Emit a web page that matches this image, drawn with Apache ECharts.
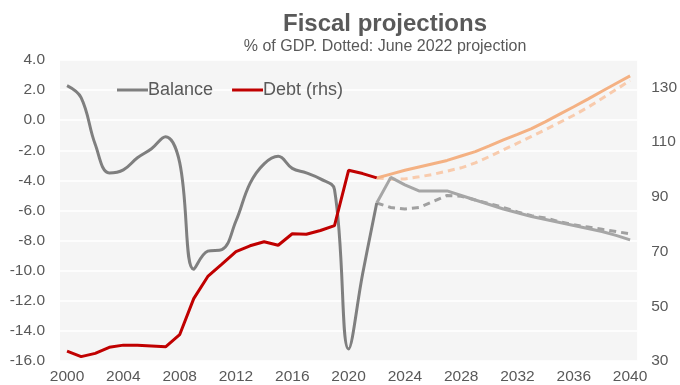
<!DOCTYPE html>
<html>
<head>
<meta charset="utf-8">
<script src="https://cdn.jsdelivr.net/npm/echarts@6/dist/echarts.min.js"></script>
<style>
  html, body { margin: 0; padding: 0; background: #ffffff; }
  #chart { width: 680px; height: 385px; }
</style>
</head>
<body>
<div id="chart"></div>
<script>
// Years on the category axis
var years = ['2000','2001','2002','2003','2004','2005','2006','2007','2008','2009',
  '2010','2011','2012','2013','2014','2015','2016','2017','2018','2019',
  '2020','2021','2022','2023','2024','2025','2026','2027','2028','2029',
  '2030','2031','2032','2033','2034','2035','2036','2037','2038','2039','2040'];

// Budget balance, % of GDP, outturn 2000-2022
var balanceHist = [2.3, 1.5, -1.6, -3.5, -3.3, -2.5, -1.9, -1.1, -2.8, -9.9,
  -8.7, -8.6, -6.7, -4.2, -2.9, -2.4, -3.2, -3.5, -3.9, -4.6,
  -15.2, -10.2, -5.5];
// Budget balance, current projection 2022-2040
var balanceProj = [-5.5, -3.8, -4.3, -4.7, -4.7, -4.7, -5.0, -5.3, -5.6, -5.9,
  -6.15, -6.4, -6.6, -6.8, -7.0, -7.2, -7.4, -7.65, -7.95];
// Budget balance, June 2022 projection 2022-2040
var balanceJune = [-5.5, -5.8, -5.9, -5.8, -5.4, -5.0, -5.05, -5.3, -5.55, -5.8,
  -6.1, -6.35, -6.5, -6.75, -6.95, -7.1, -7.25, -7.4, -7.55];

// Public debt, % of GDP, outturn 2000-2022
var debtHist = [33.6, 31.6, 32.8, 35.0, 35.8, 35.8, 35.5, 35.2, 39.6, 52.8,
  60.9, 65.4, 70.0, 72.1, 73.6, 72.3, 76.5, 76.3, 77.7, 79.5,
  99.7, 98.5, 96.9];
// Public debt, current projection 2022-2040
var debtProj = [96.9, 98.3, 99.7, 100.9, 102.1, 103.3, 104.9, 106.5, 108.6, 110.8,
  112.8, 114.9, 117.5, 120.2, 122.9, 125.7, 128.6, 131.4, 134.2];
// Public debt, June 2022 projection 2022-2040
var debtJune = [96.9, 96.4, 96.5, 97.3, 98.2, 99.4, 100.6, 102.4, 104.7, 107.2,
  109.6, 112.1, 114.6, 117.2, 119.8, 122.7, 125.9, 129.2, 132.5];

// Projections start in 2022: pad the earlier years with gaps
var projStart = years.indexOf('2022');
function fromProjStart(arr) {
  var out = [];
  for (var i = 0; i < projStart; i++) out.push(null);
  return out.concat(arr);
}

var FONT = "'Liberation Sans', Arial, Helvetica, sans-serif";
var TXT = '#595959';

var chart = echarts.init(document.getElementById('chart'), null, { renderer: 'canvas' });

chart.setOption({
  animation: false,
  backgroundColor: '#ffffff',
  textStyle: { fontFamily: FONT, color: TXT },
  title: [
    {
      text: 'Fiscal projections',
      left: 385, top: 12, padding: 0, textAlign: 'center',
      textStyle: { fontFamily: FONT, fontSize: 24, fontWeight: 'bold', color: TXT }
    },
    {
      text: '% of GDP. Dotted: June 2022 projection',
      left: 385, top: 39, padding: 0, textAlign: 'center',
      textStyle: { fontFamily: FONT, fontSize: 16, fontWeight: 'normal', color: TXT }
    }
  ],
  legend: {
    data: ['Balance', 'Debt (rhs)'],
    left: 117, top: 81, padding: 0,
    icon: 'rect', itemWidth: 31, itemHeight: 3, itemGap: 19,
    textStyle: { fontFamily: FONT, fontSize: 18, color: TXT, padding: [0, 0, 0, -5] }
  },
  grid: {
    left: 60, right: 41, top: 60, bottom: 20,
    show: true, backgroundColor: '#f5f5f5', borderWidth: 0
  },
  xAxis: {
    type: 'category',
    data: years,
    boundaryGap: true,
    axisLine: { show: false },
    axisTick: { show: false },
    axisLabel: { interval: 3, margin: 8, fontSize: 15.5, color: TXT, fontFamily: FONT },
    splitLine: { show: false }
  },
  yAxis: [
    {
      type: 'value', min: -16, max: 4, interval: 2,
      axisLine: { show: false }, axisTick: { show: false },
      axisLabel: {
        margin: 15, fontSize: 15.5, color: TXT, fontFamily: FONT,
        formatter: function (v) { return v.toFixed(1); }
      },
      splitLine: { show: true, lineStyle: { color: '#ffffff', width: 1.5 } }
    },
    {
      type: 'value', min: 30, max: 140, interval: 20, position: 'right',
      axisLine: { show: false }, axisTick: { show: false },
      axisLabel: { margin: 14, fontSize: 15.5, color: TXT, fontFamily: FONT, showMaxLabel: false },
      splitLine: { show: false }
    }
  ],
  series: [
    {
      name: 'Debt June 2022', type: 'line', yAxisIndex: 1,
      data: fromProjStart(debtJune), symbol: 'none',
      lineStyle: { color: '#f8cbad', width: 3, type: [7, 5] },
      itemStyle: { color: '#f8cbad' },
      markLine: {
        silent: true, symbol: 'none', z: 1,
        label: { show: false },
        lineStyle: { color: '#dcdcdc', width: 2, type: 'solid' },
        data: [{ yAxis: 0 }]
      }
    },
    {
      name: 'Debt projection', type: 'line', yAxisIndex: 1,
      data: fromProjStart(debtProj), symbol: 'none',
      lineStyle: { color: '#f4b183', width: 3 },
      itemStyle: { color: '#f4b183' }
    },
    {
      name: 'Balance June 2022', type: 'line', yAxisIndex: 0,
      data: fromProjStart(balanceJune), symbol: 'none',
      lineStyle: { color: '#a0a0a0', width: 3, type: [7, 5] },
      itemStyle: { color: '#a0a0a0' }
    },
    {
      name: 'Balance projection', type: 'line', yAxisIndex: 0,
      data: fromProjStart(balanceProj), symbol: 'none',
      lineStyle: { color: '#a6a6a6', width: 3 },
      itemStyle: { color: '#a6a6a6' }
    },
    {
      name: 'Balance', type: 'line', yAxisIndex: 0,
      data: balanceHist, symbol: 'none', smooth: 0.4,
      lineStyle: { color: '#7f7f7f', width: 3 },
      itemStyle: { color: '#7f7f7f' }
    },
    {
      name: 'Debt (rhs)', type: 'line', yAxisIndex: 1,
      data: debtHist, symbol: 'none',
      lineStyle: { color: '#c00000', width: 3 },
      itemStyle: { color: '#c00000' }
    }
  ]
});
</script>
</body>
</html>
